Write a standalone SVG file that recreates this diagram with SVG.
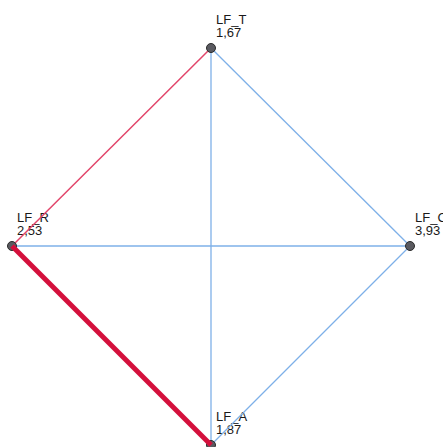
<svg xmlns="http://www.w3.org/2000/svg" width="443" height="447" viewBox="0 0 443 447">
<style>
.lbl{font-family:"Liberation Sans",Arial,sans-serif;font-size:13px;fill:#1a1a1a}
.blue{stroke:#7eb0e8;stroke-width:1.3;fill:none}
.red{stroke:#e2456a;stroke-width:1.5;fill:none}
.thick{stroke:#d4103c;stroke-width:5;fill:none}
.node{fill:#5a5a60;stroke:#2a2a2a;stroke-width:1}
</style>
<rect width="443" height="447" fill="#fff"/>
<g id="labels">
<g id="label-LF_T"><text class="lbl" x="216" y="24">LF_T</text><text class="lbl" x="216" y="37">1,67</text></g>
<g id="label-LF_R"><text class="lbl" x="17" y="222">LF_R</text><text class="lbl" x="17" y="235">2,53</text></g>
<g id="label-LF_C"><text class="lbl" x="415" y="222">LF_C</text><text class="lbl" x="415" y="235">3,93</text></g>
<g id="label-LF_A"><text class="lbl" x="216" y="421">LF_A</text><text class="lbl" x="216" y="434">1,87</text></g>
</g>
<g id="connectors">
<line class="blue" x1="211" y1="48" x2="211" y2="445"/>
<line class="blue" x1="12" y1="246" x2="410" y2="246"/>
<line class="blue" x1="211" y1="48" x2="410" y2="246"/>
<line class="blue" x1="410" y1="246" x2="211" y2="445"/>
<line class="red" x1="12" y1="246" x2="211" y2="48"/>
</g>
<g id="node-LF_T"><circle class="node" cx="211" cy="48" r="4.5"/></g>
<g id="node-LF_R"><circle class="node" cx="12" cy="246" r="4.5"/></g>
<g id="node-LF_C"><circle class="node" cx="410" cy="246" r="4.5"/></g>
<g id="node-LF_A"><circle class="node" cx="211" cy="445" r="4.5"/></g>
<g id="connector-highlight"><line class="thick" x1="12" y1="246" x2="211" y2="445"/></g>
</svg>
